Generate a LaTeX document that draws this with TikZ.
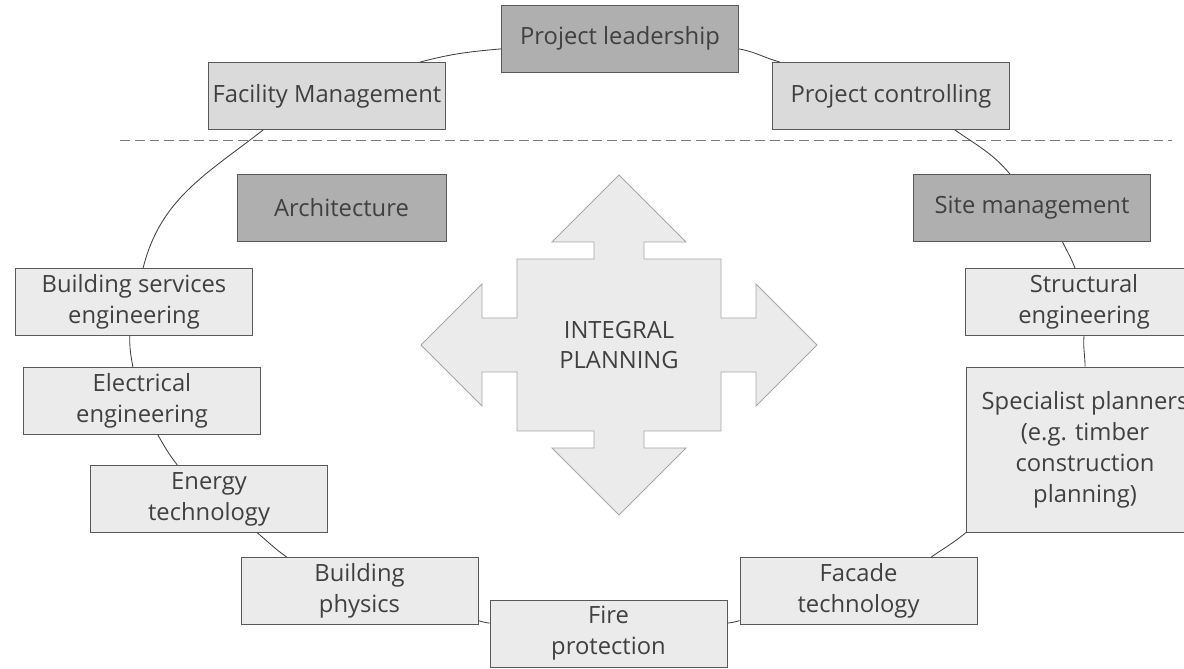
\documentclass[tikz,border=0pt]{standalone}
\usepackage{fontspec}
\setmainfont{Open Sans}
\usepackage{tikz}

\definecolor{boxdark}{HTML}{AFAFAF}
\definecolor{boxmid}{HTML}{DADADA}
\definecolor{boxlight}{HTML}{EBEBEB}
\definecolor{boxline}{HTML}{595959}
\definecolor{crossline}{HTML}{A6A6A6}
\definecolor{txt}{HTML}{404040}

\begin{document}
\begin{tikzpicture}[x=0.025cm,y=0.025cm,font=\fontsize{16.9}{22}\selectfont]

        \useasboundingbox (0,0) rectangle (1184,669);

        % dashed line below the top boxes
        \coordinate (dl) at (120,529);
        \coordinate (dr) at (1172,529);
        \draw[boxline!80, line width=0.6pt, dash pattern=on 7pt off 3.5pt] (dl) -- (dr);

        % the cross in the middle
        \begin{scope}[shift={(619,324)}]
          \draw[crossline, fill=boxlight, line width=0.6pt]
            (0,170) -- (67,103) -- (25,103) -- (25,86) -- (102,86) -- (102,27)
            -- (137,27) -- (137,61) -- (198,0) -- (137,-61) -- (137,-27)
            -- (102,-27) -- (102,-86) -- (25,-86) -- (25,-103) -- (67,-103)
            -- (0,-170) -- (-67,-103) -- (-25,-103) -- (-25,-86) -- (-102,-86)
            -- (-102,-27) -- (-137,-27) -- (-137,-61) -- (-198,0) -- (-137,61)
            -- (-137,27) -- (-102,27) -- (-102,86) -- (-25,86) -- (-25,103)
            -- (-67,103) -- cycle;
          \node[text=txt, align=center] (ip) at (0,0) {INTEGRAL\\PLANNING};
        \end{scope}

        \begin{scope}[every node/.style={rectangle, draw=boxline, line width=0.6pt, fill=boxlight,
            text=txt, align=center, inner sep=2pt, minimum width=5.925cm, minimum height=1.675cm}]
          \node[fill=boxdark] (lead)   at (620,630.5)  {Project leadership};
          \node[fill=boxmid]  (fm)     at (327,573)    {Facility Management};
          \node[fill=boxmid]  (pc)     at (891,573)    {Project controlling};
          \node[fill=boxdark, minimum width=5.225cm] (arch) at (341.5,461) {Architecture};
          \node[fill=boxdark] (site)   at (1032,461)   {Site management};
          \node (bse)    at (134,367)    {Building services\\engineering};
          \node (ee)     at (142,268)    {Electrical\\engineering};
          \node (et)     at (209,170)    {Energy\\technology};
          \node (bp)     at (359.5,78)   {Building\\physics};
          \node (fire)   at (608.5,35.5) {Fire\\protection};
          \node (facade) at (858.5,78)   {Facade\\technology};
          \node (struct) at (1084,367)   {Structural\\engineering};
          \node[minimum height=4.125cm] (spec) at (1085,219.5)
            {Specialist planners\\(e.g. timber\\construction\\planning)};
        \end{scope}

        \begin{scope}[every edge/.style={draw=txt, line width=0.6pt}]
          \path (lead.185)  edge[out=185,in=15]   (fm.20);
          \path (fm.208)    edge[out=218,in=76]   (bse.75);
          \path (bse.263)   edge[out=268,in=100]  (ee.105);
          \path (ee.295)    edge[out=300,in=128]  (et.133);
          \path (et.325)    edge[out=320,in=145]  (bp.155);
          \path (bp.346)    edge[out=345,in=175]  (fire.175);
          \path (fire.5)    edge[out=5,in=195]    (facade.194);
          \path (facade.25) edge[out=35,in=220]   (spec.south west);
          \path (spec.north) edge[out=90,in=265]  (struct.south);
          \path (struct.105) edge[out=110,in=295] (site.312);
          \path (site.123)  edge[out=130,in=325]  (pc.332);
          \path (pc.163)    edge[out=165,in=350]  (lead.355);
        \end{scope}

      \end{tikzpicture}
\end{document}
